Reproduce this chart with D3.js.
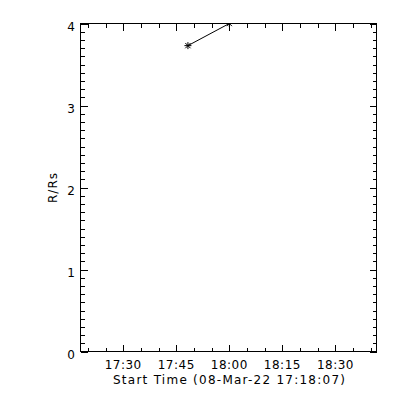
<!DOCTYPE html>
<html>
<head>
<meta charset="utf-8">
<script src="https://cdn.jsdelivr.net/npm/d3@7"></script>
<style>
  body { margin: 0; background: #fff; }
  text { font-family: "DejaVu Sans", sans-serif; fill: #000; }
</style>
</head>
<body>
<div id="chart"></div>
<script>
// measured points (time of day, height in solar radii)
const times = ["17:48:18", "18:00:00"];
const heights = [3.73, 4.0];
const xTickLabels = ["17:30", "17:45", "18:00", "18:15", "18:30"];
const yTicks = [0, 1, 2, 3, 4];
const axisStart = "17:17:56";
const axisEnd = "18:41:36";
const startLabel = "Start Time (08-Mar-22 17:18:07)";

const width = 400, height = 400;
const x0 = 80.5, x1 = 376.5, y0 = 23.5, y1 = 351.5;

const parse = d3.timeParse("%H:%M:%S");
const parseHM = d3.timeParse("%H:%M");

const svg = d3.select("#chart").append("svg")
  .attr("width", width)
  .attr("height", height);

const x = d3.scaleTime()
  .domain([parse(axisStart), parse(axisEnd)])
  .range([x0, x1]);

const y = d3.scaleLinear()
  .domain([0, 4])
  .range([y1, y0]);

const g = svg.append("g").attr("shape-rendering", "crispEdges");

// frame
g.append("rect")
  .attr("x", x0).attr("y", y0)
  .attr("width", x1 - x0).attr("height", y1 - y0)
  .attr("fill", "none").attr("stroke", "#000");

// x ticks every 5 min, major every 15
const minorX = d3.timeMinute.every(5).range(x.domain()[0], x.domain()[1]);
minorX.forEach(t => {
  const major = t.getMinutes() % 15 === 0;
  const len = major ? 7 : 4;
  const px = Math.round(x(t)) + 0.5;
  g.append("line").attr("x1", px).attr("x2", px)
    .attr("y1", y1).attr("y2", y1 - len).attr("stroke", "#000");
  g.append("line").attr("x1", px).attr("x2", px)
    .attr("y1", y0).attr("y2", y0 + len).attr("stroke", "#000");
});

// y ticks every 0.1, major every 1
d3.range(0, 41).forEach(i => {
  const v = i / 10;
  const major = i % 10 === 0;
  const len = major ? 7 : 4;
  const py = Math.round(y(v)) + 0.5;
  g.append("line").attr("x1", x0).attr("x2", x0 + len)
    .attr("y1", py).attr("y2", py).attr("stroke", "#000");
  g.append("line").attr("x1", x1).attr("x2", x1 - len)
    .attr("y1", py).attr("y2", py).attr("stroke", "#000");
});

// tick labels
svg.selectAll(".xl").data(xTickLabels).join("text")
  .attr("class", "xl")
  .attr("x", d => x(parseHM(d)))
  .attr("y", 369)
  .attr("text-anchor", "middle")
  .attr("font-size", 12)
  .attr("letter-spacing", 0.5)
  .text(d => d);

svg.selectAll(".yl").data(yTicks).join("text")
  .attr("class", "yl")
  .attr("x", 75)
  .attr("y", d => y(d) + 7)
  .attr("text-anchor", "end")
  .attr("font-size", 12)
  .text(d => d);

// axis titles
svg.append("text")
  .attr("x", 229).attr("y", 384)
  .attr("text-anchor", "middle")
  .attr("font-size", 12)
  .attr("textLength", 232)
  .text(startLabel);

svg.append("text")
  .attr("transform", `translate(57, ${(y0 + y1) / 2}) rotate(-90)`)
  .attr("text-anchor", "middle")
  .attr("font-size", 12)
  .attr("letter-spacing", 1)
  .text("R/Rs");

// data line + asterisks
const pts = times.map((t, i) => ({ t: parse(t), v: heights[i] }));

svg.append("defs").append("clipPath").attr("id", "plot")
  .append("rect").attr("x", x0).attr("y", y0)
  .attr("width", x1 - x0).attr("height", y1 - y0);

const plot = svg.append("g").attr("clip-path", "url(#plot)");

plot.append("path")
  .datum(pts)
  .attr("fill", "none")
  .attr("stroke", "#000")
  .attr("stroke-width", 1)
  .attr("d", d3.line().x(d => x(d.t)).y(d => y(d.v)));

const r = 3.5;
pts.forEach(d => {
  const cx = x(d.t), cy = y(d.v);
  const star = plot.append("g").attr("stroke", "#000").attr("stroke-width", 1);
  [[r, 0], [0, r], [r * 0.75, r * 0.75], [r * 0.75, -r * 0.75]].forEach(([dx, dy]) => {
    star.append("line")
      .attr("x1", cx - dx).attr("y1", cy - dy)
      .attr("x2", cx + dx).attr("y2", cy + dy);
  });
});
</script>
</body>
</html>
